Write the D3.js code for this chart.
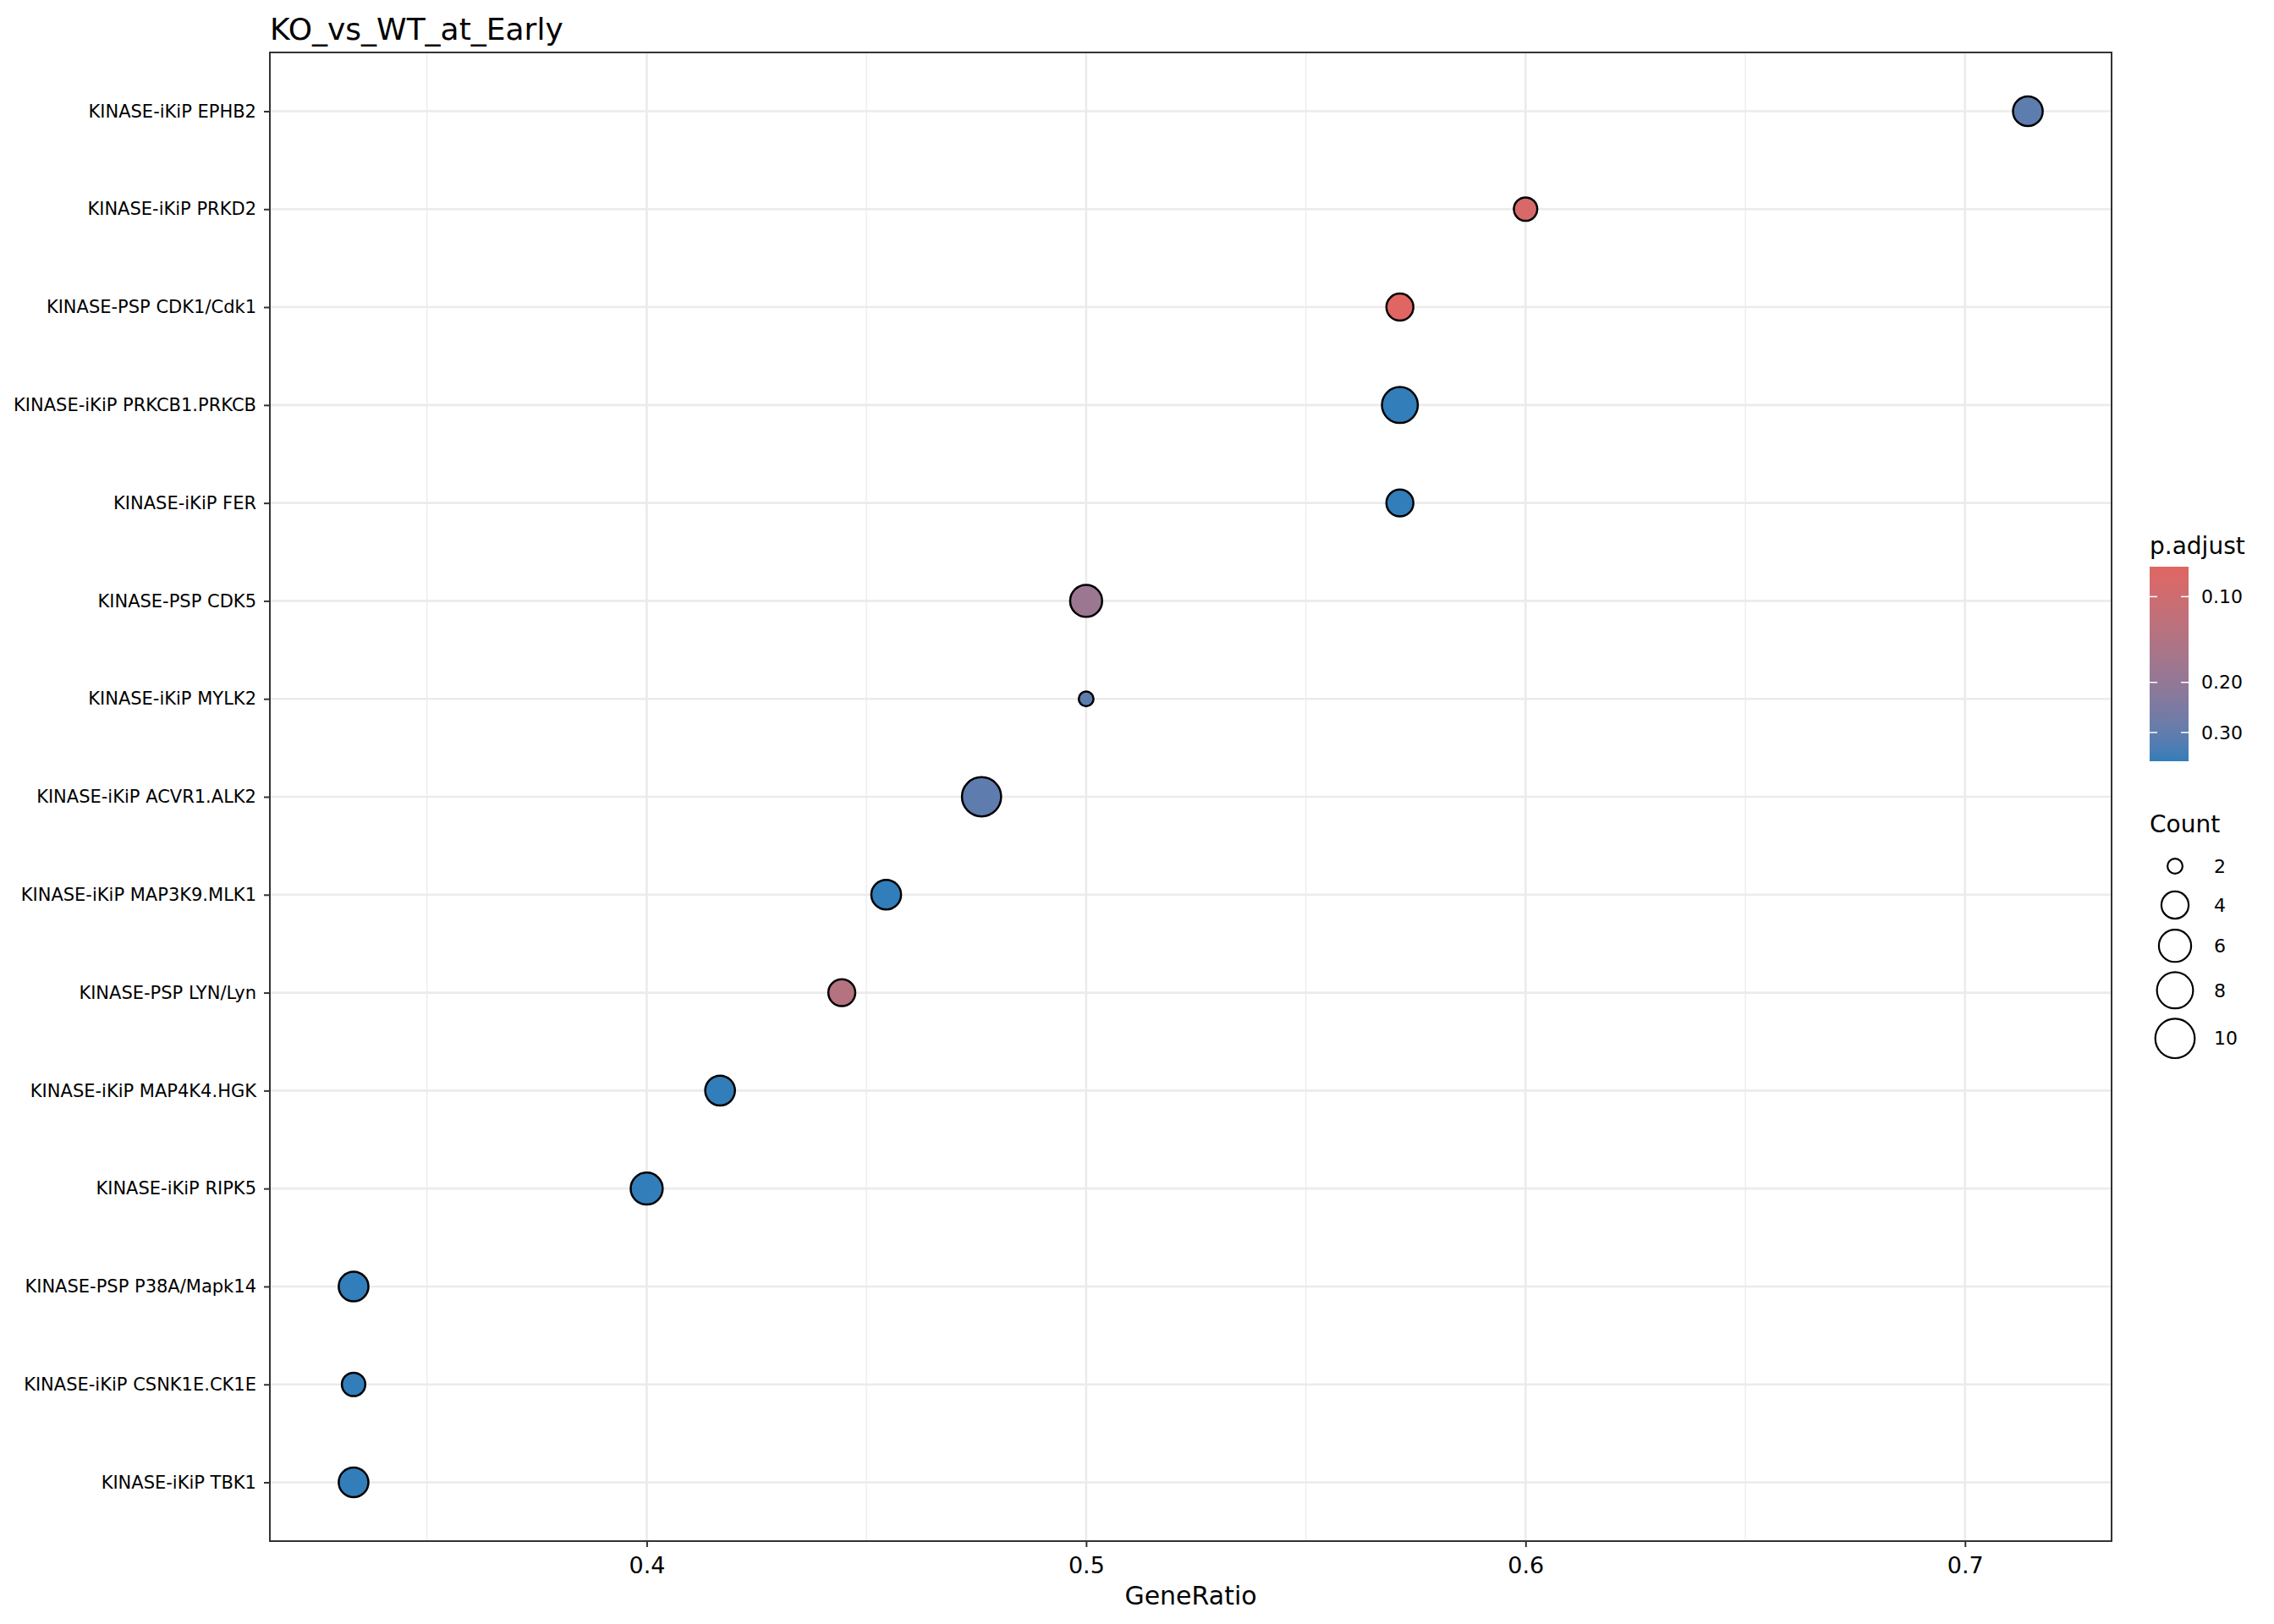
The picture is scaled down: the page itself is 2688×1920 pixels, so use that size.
<!DOCTYPE html>
<html lang="en">
<head>
    <meta charset="UTF-8">
    <title>KO_vs_WT_at_Early</title>
    <style type="text/css">
        body { margin:0; background:#fff }
        text { font-family: "DejaVu Sans", sans-serif }
    </style>
</head>
<body>
<script src="https://d3js.org/d3.v7.min.js"></script>
<script>
    // data
    var terms = [
        'KINASE-iKiP EPHB2', 'KINASE-iKiP PRKD2', 'KINASE-PSP CDK1/Cdk1',
        'KINASE-iKiP PRKCB1.PRKCB', 'KINASE-iKiP FER', 'KINASE-PSP CDK5',
        'KINASE-iKiP MYLK2', 'KINASE-iKiP ACVR1.ALK2', 'KINASE-iKiP MAP3K9.MLK1',
        'KINASE-PSP LYN/Lyn', 'KINASE-iKiP MAP4K4.HGK', 'KINASE-iKiP RIPK5',
        'KINASE-PSP P38A/Mapk14', 'KINASE-iKiP CSNK1E.CK1E', 'KINASE-iKiP TBK1'
    ];
    var geneRatio = [0.7143, 0.6, 0.5714, 0.5714, 0.5714, 0.5, 0.5, 0.4762,
                     0.4545, 0.4444, 0.4167, 0.4, 0.3333, 0.3333, 0.3333];
    var counts = [5, 3, 4, 8, 4, 6, 2, 10, 5, 4, 5, 6, 5, 3, 5];
    var pAdjust = [0.309, 0.089, 0.0785, 0.3785, 0.3785, 0.181, 0.309, 0.304,
                   0.3785, 0.136, 0.3785, 0.3785, 0.3785, 0.3785, 0.3785];

    var xTicks = [0.4, 0.5, 0.6, 0.7],
        xMinor = [0.35, 0.45, 0.55, 0.65],
        pTicks = [0.10, 0.20, 0.30],
        countBreaks = [2, 4, 6, 8, 10];

    var width = 2688,
        height = 1920,
        panelL = 319, panelR = 2496, panelT = 62, panelB = 1822,
        lowCol = '#e06663', highCol = '#327eba',
        grid = '#ebebeb';

    var svg = d3.select('body').append('svg')
        .attr('width', width)
        .attr('height', height);

    var data = terms.map(function(t, i) {
        return {term: t, x: geneRatio[i], count: counts[i], p: pAdjust[i]};
    });

    // scales, ggplot style 5% expansion on x
    var xExt = d3.extent(geneRatio),
        xPad = (xExt[1] - xExt[0]) * 0.05;
    var xScale = d3.scaleLinear()
        .domain([xExt[0] - xPad, xExt[1] + xPad])
        .range([panelL, panelR]);
    var yScale = d3.scalePoint()
        .domain(terms)
        .range([panelT, panelB])
        .padding(0.6);

    var cExt = d3.extent(counts);
    var rScale = d3.scaleSqrt()
        .domain([0, cExt[1] - cExt[0]])
        .range([10, 24.4]);
    function radius(c) { return rScale(c - cExt[0]); }

    var pExt = d3.extent(pAdjust);
    var pLog = d3.scaleLog().domain(pExt).range([0, 1]);
    var colInterp = d3.interpolateLab(lowCol, highCol);
    function fill(p) { return colInterp(pLog(p)); }

    // grid
    var g = svg.append('g');
    g.selectAll('line.minor')
        .data(xMinor)
        .enter().append('line')
        .attr('x1', function(d) { return xScale(d); })
        .attr('x2', function(d) { return xScale(d); })
        .attr('y1', panelT).attr('y2', panelB)
        .attr('stroke', grid).attr('stroke-width', 1.3);
    g.selectAll('line.vmajor')
        .data(xTicks)
        .enter().append('line')
        .attr('x1', function(d) { return xScale(d); })
        .attr('x2', function(d) { return xScale(d); })
        .attr('y1', panelT).attr('y2', panelB)
        .attr('stroke', grid).attr('stroke-width', 2.6);
    g.selectAll('line.hmajor')
        .data(terms)
        .enter().append('line')
        .attr('x1', panelL).attr('x2', panelR)
        .attr('y1', function(d) { return yScale(d); })
        .attr('y2', function(d) { return yScale(d); })
        .attr('stroke', grid).attr('stroke-width', 2.6);

    // points
    svg.selectAll('circle.pt')
        .data(data)
        .enter().append('circle')
        .attr('class', 'pt')
        .attr('cx', function(d) { return xScale(d.x); })
        .attr('cy', function(d) { return yScale(d.term); })
        .attr('r', function(d) { return radius(d.count) - 1.25; })
        .attr('fill', function(d) { return fill(d.p); })
        .attr('stroke', '#000')
        .attr('stroke-width', 2.5);

    // panel border
    svg.append('rect')
        .attr('x', panelL).attr('y', panelT)
        .attr('width', panelR - panelL).attr('height', panelB - panelT)
        .attr('fill', 'none')
        .attr('stroke', '#333')
        .attr('stroke-width', 2);

    // axes
    var xAxis = d3.axisBottom(xScale)
        .tickValues(xTicks)
        .tickFormat(d3.format('.1f'))
        .tickSize(7)
        .tickPadding(12);
    var gx = svg.append('g')
        .attr('transform', 'translate(0,' + panelB + ')')
        .call(xAxis);
    gx.select('.domain').remove();
    gx.selectAll('line').attr('stroke', '#333').attr('stroke-width', 2);
    gx.selectAll('text').attr('font-size', 27).attr('fill', '#000')
        .attr('font-family', 'DejaVu Sans');

    var yAxis = d3.axisLeft(yScale)
        .tickSize(7)
        .tickPadding(9);
    var gy = svg.append('g')
        .attr('transform', 'translate(' + panelL + ',0)')
        .call(yAxis);
    gy.select('.domain').remove();
    gy.selectAll('line').attr('stroke', '#333').attr('stroke-width', 2);
    gy.selectAll('text').attr('font-size', 21).attr('fill', '#000')
        .attr('font-family', 'DejaVu Sans');

    svg.append('text')
        .attr('x', (panelL + panelR) / 2)
        .attr('y', 1897)
        .attr('text-anchor', 'middle')
        .attr('font-size', 30)
        .text('GeneRatio');

    svg.append('text')
        .attr('x', panelL)
        .attr('y', 47)
        .attr('font-size', 36)
        .text('KO_vs_WT_at_Early');

    // colour legend
    var legX = 2541, barW = 46, barTop = 670, barBot = 900;
    var barScale = d3.scaleLog().domain(pExt).range([barTop, barBot]);

    svg.append('text')
        .attr('x', legX).attr('y', 655)
        .attr('font-size', 28)
        .text('p.adjust');

    var grad = svg.append('defs').append('linearGradient')
        .attr('id', 'pgrad')
        .attr('x1', 0).attr('y1', 0).attr('x2', 0).attr('y2', 1);
    grad.selectAll('stop')
        .data(d3.range(0, 1.001, 0.05))
        .enter().append('stop')
        .attr('offset', function(d) { return d; })
        .attr('stop-color', function(d) { return colInterp(d); });

    svg.append('rect')
        .attr('x', legX).attr('y', barTop)
        .attr('width', barW).attr('height', barBot - barTop)
        .attr('fill', 'url(#pgrad)');

    var pt = svg.append('g').selectAll('g')
        .data(pTicks)
        .enter().append('g')
        .attr('transform', function(d) { return 'translate(0,' + barScale(d) + ')'; });
    pt.append('line')
        .attr('x1', legX).attr('x2', legX + 9)
        .attr('stroke', '#fff').attr('stroke-width', 1.5);
    pt.append('line')
        .attr('x1', legX + barW - 9).attr('x2', legX + barW)
        .attr('stroke', '#fff').attr('stroke-width', 1.5);
    pt.append('text')
        .attr('x', 2602)
        .attr('dy', '0.35em')
        .attr('font-size', 22)
        .text(function(d) { return d3.format('.2f')(d); });

    // size legend
    svg.append('text')
        .attr('x', legX).attr('y', 984)
        .attr('font-size', 28)
        .text('Count');

    var keyY = 1001, keys = [];
    countBreaks.forEach(function(c) {
        var h = Math.max(46, radius(c) * 2 + 10);
        keys.push({c: c, y: keyY + h / 2});
        keyY += h;
    });

    var sk = svg.append('g').selectAll('g')
        .data(keys)
        .enter().append('g')
        .attr('transform', function(d) { return 'translate(0,' + d.y + ')'; });
    sk.append('circle')
        .attr('cx', 2571)
        .attr('r', function(d) { return radius(d.c) - 1.1; })
        .attr('fill', '#fff')
        .attr('stroke', '#000')
        .attr('stroke-width', 2.2);
    sk.append('text')
        .attr('x', 2617)
        .attr('dy', '0.35em')
        .attr('font-size', 22)
        .text(function(d) { return d.c; });
</script>
</body>
</html>
